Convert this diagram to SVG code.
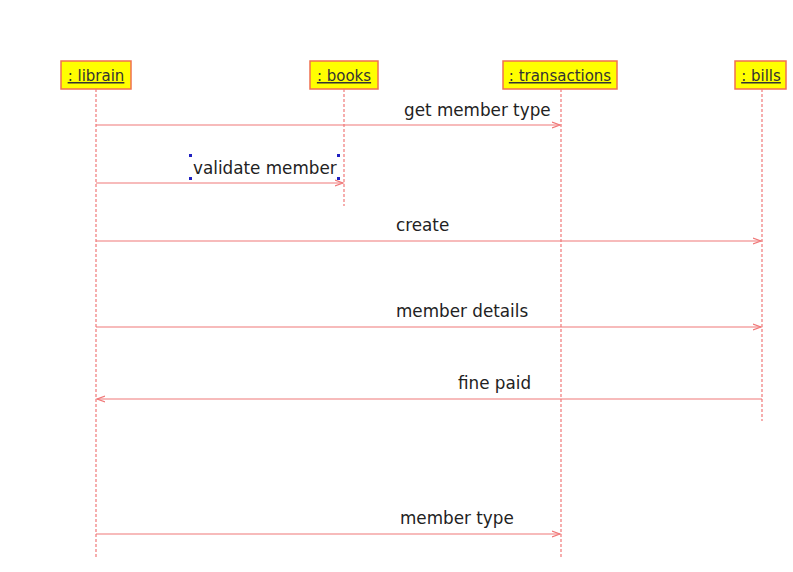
<svg xmlns="http://www.w3.org/2000/svg" width="793" height="572" viewBox="0 0 793 572">
<style>
.box{fill:#ffff00;stroke:#f07050;stroke-width:1.5}
.bl{font-family:"DejaVu Sans",sans-serif;font-size:15px;fill:#333;text-decoration:underline;text-anchor:middle}
.life{stroke:#f07878;stroke-width:1.2;stroke-dasharray:3,2;fill:none}
.msg{stroke:#f07878;stroke-width:1.2;fill:none;marker-end:url(#ah)}
.ml{font-family:"DejaVu Sans",sans-serif;font-size:16.8px;fill:#222}
.h{fill:#2020c0}
</style>
<defs>
<marker id="ah" markerWidth="10" markerHeight="10" refX="8" refY="4" orient="auto" markerUnits="userSpaceOnUse">
<path d="M0,1 L8,4 L0,7" fill="none" stroke="#f07878" stroke-width="1.2"/>
</marker>
</defs>
<rect width="793" height="572" fill="#fff"/>
<g id="librain"><rect class="box" x="61" y="61" width="70" height="28"/><text class="bl" x="96" y="81">: librain</text><line class="life" x1="96" y1="89" x2="96" y2="557"/></g>
<g id="books"><rect class="box" x="310" y="61" width="68" height="28"/><text class="bl" x="344" y="81">: books</text><line class="life" x1="344" y1="89" x2="344" y2="206"/></g>
<g id="transactions"><rect class="box" x="503" y="61" width="114" height="28"/><text class="bl" x="560" y="81">: transactions</text><line class="life" x1="561" y1="89" x2="561" y2="557"/></g>
<g id="bills"><rect class="box" x="735" y="61" width="51" height="28"/><text class="bl" x="761" y="81">: bills</text><line class="life" x1="762" y1="89" x2="762" y2="421"/></g>
<g id="connectors">
<line class="msg" x1="96" y1="125" x2="560" y2="125"/>
<text class="ml" x="404" y="116">get member type</text>
<line class="msg" x1="96" y1="183" x2="343" y2="183"/>
<text class="ml" x="193" y="174">validate member</text>
<rect class="h" x="189" y="154" width="3" height="3"/><rect class="h" x="337" y="154" width="3" height="3"/>
<rect class="h" x="189" y="177" width="3" height="3"/><rect class="h" x="337" y="177" width="3" height="3"/>
<line class="msg" x1="96" y1="241" x2="761" y2="241"/>
<text class="ml" x="396" y="231">create</text>
<line class="msg" x1="96" y1="327" x2="761" y2="327"/>
<text class="ml" x="396" y="317">member details</text>
<line class="msg" x1="762" y1="399" x2="97" y2="399"/>
<text class="ml" x="458" y="389">fine paid</text>
<line class="msg" x1="96" y1="534" x2="560" y2="534"/>
<text class="ml" x="400" y="524">member type</text>
</g>
</svg>
